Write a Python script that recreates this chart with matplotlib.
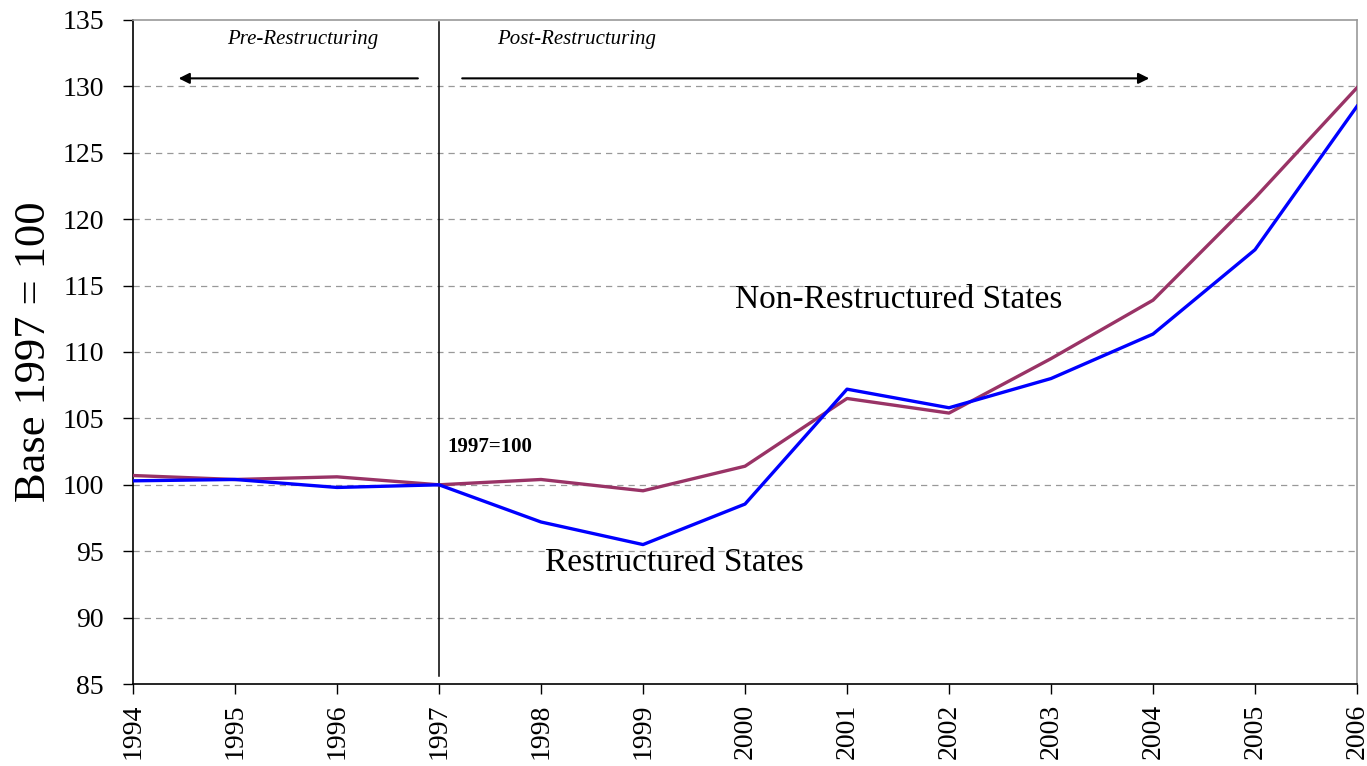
import matplotlib.pyplot as plt

# ─── Data ─────────────────────────────────────────────────────────────────────
years = [1994, 1995, 1996, 1997, 1998, 1999, 2000, 2001, 2002, 2003, 2004, 2005, 2006]
restructured = [100.3, 100.4, 99.8, 100.0, 97.2, 95.5, 98.55, 107.2, 105.8, 108.0, 111.35, 117.7, 128.5]
non_restructured = [100.7, 100.4, 100.6, 100.0, 100.4, 99.55, 101.4, 106.5, 105.4, 109.5, 113.9, 121.6, 129.9]
y_ticks = list(range(85, 136, 5))

plt.rcParams["font.family"] = ["Liberation Serif", "DejaVu Serif"]

fig = plt.figure(figsize=(13.67, 7.66), dpi=100)
ax = fig.add_axes([0.0973, 0.107, 0.8954, 0.867])

# grid
for yv in y_ticks[1:-1]:
    ax.axhline(yv, color="#999999", linestyle=(0, (5, 4)), linewidth=0.9, zorder=0)

ax.plot(years, non_restructured, color="#993366", linewidth=2.4, zorder=3)
ax.plot(years, restructured, color="#0000FF", linewidth=2.4, zorder=3)

# restructuring divider
ax.plot([1997, 1997], [85.6, 134.85], color="black", linewidth=1.1, zorder=2)

ax.set_xlim(1994, 2006)
ax.set_ylim(85, 135)
ax.set_xticks(years)
ax.set_xticklabels([str(y) for y in years], rotation=90, fontsize=20)
ax.set_yticks(y_ticks)
ax.set_yticklabels([str(y) for y in y_ticks], fontsize=20)
ax.tick_params(direction="out", length=7, width=1, color="black")
ax.tick_params(axis="y", pad=14)
ax.tick_params(axis="x", pad=7)
ax.set_ylabel("Base 1997 = 100", fontsize=32, labelpad=6)

for side in ["top", "right"]:
    ax.spines[side].set_color("#999999")
    ax.spines[side].set_linewidth(1.2)
for side in ["left", "bottom"]:
    ax.spines[side].set_linewidth(1.2)

# annotations
ax.text(1995.66, 133.5, "Pre-Restructuring", style="italic", fontsize=15,
        ha="center", va="center")
ax.text(1998.35, 133.5, "Post-Restructuring", style="italic", fontsize=15,
        ha="center", va="center")
ax.annotate("", xy=(1994.42, 130.6), xytext=(1996.82, 130.6),
            arrowprops=dict(arrowstyle="-|>", color="black", lw=1.5, mutation_scale=16))
ax.annotate("", xy=(2003.99, 130.6), xytext=(1997.2, 130.6),
            arrowprops=dict(arrowstyle="-|>", color="black", lw=1.5, mutation_scale=16))
ax.text(1997.08, 102.85, "1997=100", fontweight="bold", fontsize=15,
        ha="left", va="center")
ax.text(1999.9, 113.9, "Non-Restructured States", fontsize=24, ha="left", va="center")
ax.text(1998.04, 94.1, "Restructured States", fontsize=24, ha="left", va="center")

fig.savefig("out.png", dpi=100)
